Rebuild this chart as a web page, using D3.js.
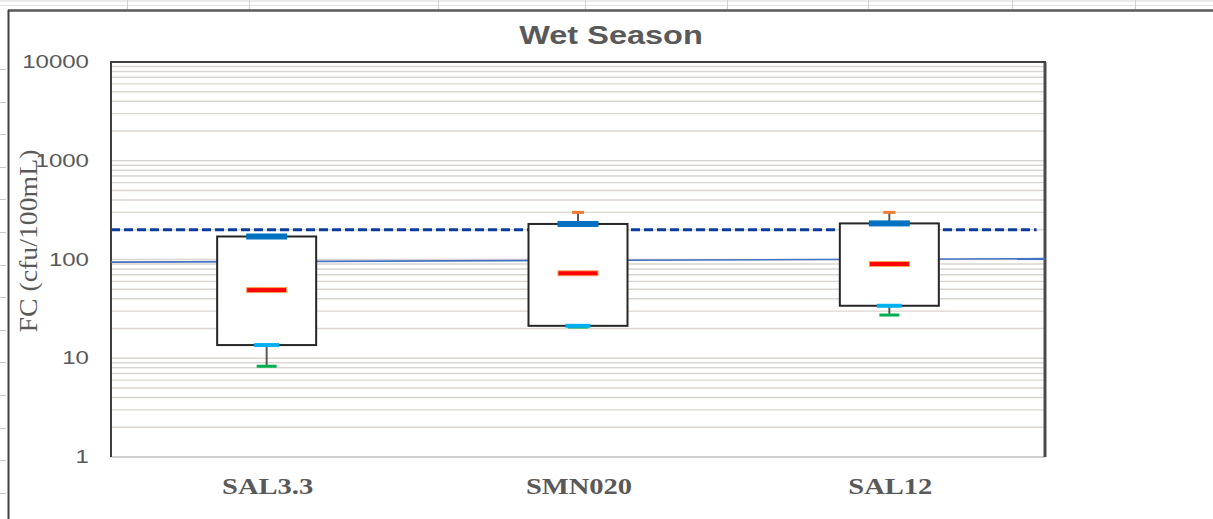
<!DOCTYPE html>
<html>
<head>
<meta charset="utf-8">
<script src="https://cdn.jsdelivr.net/npm/d3@7"></script>
<style>
  html, body { margin: 0; padding: 0; background: #ffffff; }
  svg { display: block; }
</style>
</head>
<body>
<svg id="chart" width="1213" height="519"></svg>
<script>
// Sampling stations and their fecal coliform summary (cfu/100mL)
const categories = ["SAL3.3", "SMN020", "SAL12"];
const minVals    = [8.3, 20.7, 27.4];
const q1Vals     = [13.6, 21.3, 34];
const medianVals = [49, 72.5, 90];
const q3Vals     = [171, 229, 232];
const maxVals    = [171, 300, 300];

// Axis ticks
const yTicks = [1, 10, 100, 1000, 10000];

// Reference levels
const limitValue = 200;           // dashed limit line
const trendValues = [94, 102];    // solid line, start and end of plot

const W = 1213, H = 519;
const plot = { left: 111, right: 1045, top: 62, bottom: 457 };

const svg = d3.select("#chart");

// Spreadsheet surroundings: header strip, row ticks and chart frame
const sheet = svg.append("g").attr("class", "sheet");
sheet.append("line").attr("x1", 0).attr("x2", W).attr("y1", 1).attr("y2", 1)
  .attr("stroke", "#d4d4d4").attr("stroke-width", 1);
sheet.append("line").attr("x1", 0).attr("x2", W).attr("y1", 5.5).attr("y2", 5.5)
  .attr("stroke", "#e2e2e2").attr("stroke-width", 1);
[127, 249, 438, 585, 727, 868, 1012, 1135].forEach(x => {
  sheet.append("line").attr("x1", x + 0.5).attr("x2", x + 0.5).attr("y1", 0).attr("y2", 10)
    .attr("stroke", "#d0d0d0").attr("stroke-width", 1);
});
d3.range(14).forEach(i => {
  const y = Math.round(69 + i * 32.6) + 0.5;
  sheet.append("line").attr("x1", 0).attr("x2", 6).attr("y1", y).attr("y2", y)
    .attr("stroke", "#c8c8c8").attr("stroke-width", 1);
});
sheet.append("line").attr("x1", 8).attr("x2", W).attr("y1", 10.5).attr("y2", 10.5)
  .attr("stroke", "#595959").attr("stroke-width", 2.5);
sheet.append("line").attr("x1", 8.5).attr("x2", 8.5).attr("y1", 10).attr("y2", H)
  .attr("stroke", "#404040").attr("stroke-width", 2);

// Scales
const x = d3.scaleBand().domain(categories).range([plot.left, plot.right]).paddingInner(0).paddingOuter(0);
const xLin = d3.scaleLinear().domain([0, 1]).range([plot.left, plot.right]);
const y = d3.scaleLog().domain([1, 10000]).range([plot.bottom, plot.top]);

// Horizontal gridlines at every 1..9 step of each decade
const gridVals = [];
[1, 10, 100, 1000].forEach(d => { for (let k = 1; k <= 9; k++) gridVals.push(k * d); });
svg.append("g").attr("class", "grid")
  .selectAll("line").data(gridVals.filter(v => v > 1)).join("line")
  .attr("x1", plot.left).attr("x2", plot.right)
  .attr("y1", d => y(d)).attr("y2", d => y(d))
  .attr("stroke", "#dbd5cf").attr("stroke-width", 1.4);

// Plot area border
svg.append("line").attr("x1", plot.left).attr("x2", plot.right).attr("y1", plot.bottom).attr("y2", plot.bottom)
  .attr("stroke", "#d0d0d0").attr("stroke-width", 2);
svg.append("line").attr("x1", plot.left - 1).attr("x2", plot.right + 1).attr("y1", plot.top).attr("y2", plot.top)
  .attr("stroke", "#404040").attr("stroke-width", 2);
svg.append("line").attr("x1", plot.left).attr("x2", plot.left).attr("y1", plot.top).attr("y2", plot.bottom)
  .attr("stroke", "#404040").attr("stroke-width", 2);
svg.append("line").attr("x1", plot.right).attr("x2", plot.right).attr("y1", plot.top).attr("y2", plot.bottom)
  .attr("stroke", "#4a4a4a").attr("stroke-width", 3);

// Reference lines
svg.append("line").attr("class", "trend")
  .attr("x1", xLin(0)).attr("x2", xLin(1))
  .attr("y1", y(trendValues[0])).attr("y2", y(trendValues[1]))
  .attr("stroke", "#4472c4").attr("stroke-width", 1.6);
svg.append("line").attr("class", "limit")
  .attr("x1", xLin(0)).attr("x2", xLin(0.991))
  .attr("y1", y(limitValue)).attr("y2", y(limitValue))
  .attr("stroke", "#0b3d9c").attr("stroke-width", 3)
  .attr("stroke-dasharray", "9,4");

// Box plots
const stats = categories.map((c, i) => ({
  cat: c, min: minVals[i], q1: q1Vals[i], med: medianVals[i], q3: q3Vals[i], max: maxVals[i]
}));
const boxW = 99;
const g = svg.append("g").attr("class", "boxes");
const cx = d => x(d.cat) + x.bandwidth() / 2;

// whiskers
g.selectAll("line.wlow").data(stats).join("line").attr("class", "wlow")
  .attr("x1", cx).attr("x2", cx)
  .attr("y1", d => y(d.q1)).attr("y2", d => y(d.min))
  .attr("stroke", "#595959").attr("stroke-width", 2);
g.selectAll("line.whigh").data(stats).join("line").attr("class", "whigh")
  .attr("x1", cx).attr("x2", cx)
  .attr("y1", d => y(d.q3)).attr("y2", d => y(d.max))
  .attr("stroke", "#595959").attr("stroke-width", 2);

// boxes
g.selectAll("rect.box").data(stats).join("rect").attr("class", "box")
  .attr("x", d => cx(d) - boxW / 2).attr("width", boxW)
  .attr("y", d => y(d.q3)).attr("height", d => y(d.q1) - y(d.q3))
  .attr("fill", "#ffffff").attr("stroke", "#262626").attr("stroke-width", 2);

// dash markers
function marker(cls, key, w, h, fill, stroke) {
  g.selectAll("rect." + cls).data(stats).join("rect").attr("class", cls)
    .attr("x", d => cx(d) - w / 2).attr("width", w)
    .attr("y", d => y(d[key]) - h / 2).attr("height", h)
    .attr("fill", fill)
    .attr("stroke", stroke || "none").attr("stroke-width", stroke ? 1 : 0);
}
marker("mmax", "max", 12, 3, "#ed7d31");
marker("mmin", "min", 20, 3, "#00b050");
marker("mq1", "q1", 25, 4, "#00b0f0");
marker("mq3", "q3", 41, 6, "#0070c0");
marker("mmed", "med", 40, 5, "#ff0000", "#f4a460");

// Y tick labels
const stretch = (sel, sx) => sel.attr("transform", function () {
  const t = d3.select(this);
  return `translate(${t.attr("data-x")},${t.attr("data-y")}) scale(${sx},1)`;
});
svg.append("g").attr("class", "yticks")
  .selectAll("text").data(yTicks).join("text")
  .attr("data-x", 89).attr("data-y", d => y(d))
  .attr("text-anchor", "end").attr("dominant-baseline", "central")
  .attr("font-family", "'Liberation Sans', Arial, sans-serif")
  .attr("font-size", 18.5).attr("fill", "#595959")
  .text(d => d)
  .call(stretch, 1.3);

// Category labels
svg.append("g").attr("class", "xlabels")
  .selectAll("text").data(categories).join("text")
  .attr("data-x", d => x(d) + x.bandwidth() / 2 + 1).attr("data-y", 494)
  .attr("text-anchor", "middle")
  .attr("font-family", "'Liberation Serif', 'Times New Roman', serif")
  .attr("font-weight", "bold").attr("font-size", 24).attr("fill", "#595959")
  .text(d => d)
  .call(stretch, 1.19);

// Axis title
svg.append("text")
  .attr("transform", "translate(37,241) rotate(-90)")
  .attr("text-anchor", "middle")
  .attr("font-family", "'Liberation Serif', 'Times New Roman', serif")
  .attr("font-size", 25).attr("fill", "#595959")
  .attr("textLength", 183).attr("lengthAdjust", "spacingAndGlyphs")
  .text("FC (cfu/100mL)");

// Chart title
svg.append("text")
  .attr("transform", "translate(611,44) scale(1.3,1)")
  .attr("text-anchor", "middle")
  .attr("font-family", "'Liberation Sans', Arial, sans-serif")
  .attr("font-weight", "bold").attr("font-size", 25).attr("fill", "#595959")
  .text("Wet Season");
</script>
</body>
</html>
